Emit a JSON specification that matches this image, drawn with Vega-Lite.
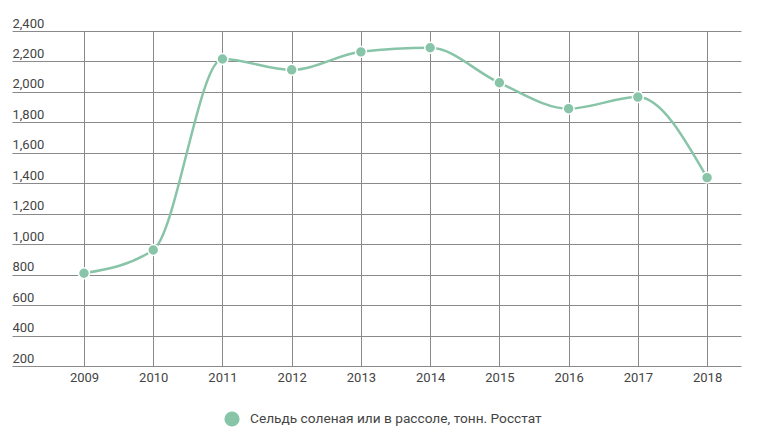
{
  "$schema": "https://vega.github.io/schema/vega-lite/v6.json",
  "autosize": "none",
  "width": 729,
  "height": 335,
  "padding": {"left": 12, "top": 31, "right": 18, "bottom": 80},
  "background": "white",
  "config": {
    "font": "Roboto",
    "view": {"stroke": null},
    "axis": {"labelFont": "Roboto", "labelFontSize": 13, "labelColor": "#444444", "gridColor": "#8a8a8a", "gridOpacity": 1, "gridWidth": 1}
  },
  "data": {
    "values": [
      {"year": 2009, "value": 809, "series": "Сельдь соленая или в рассоле, тонн. Росстат"},
      {"year": 2010, "value": 962, "series": "Сельдь соленая или в рассоле, тонн. Росстат"},
      {"year": 2011, "value": 2216, "series": "Сельдь соленая или в рассоле, тонн. Росстат"},
      {"year": 2012, "value": 2145, "series": "Сельдь соленая или в рассоле, тонн. Росстат"},
      {"year": 2013, "value": 2263, "series": "Сельдь соленая или в рассоле, тонн. Росстат"},
      {"year": 2014, "value": 2290, "series": "Сельдь соленая или в рассоле, тонн. Росстат"},
      {"year": 2015, "value": 2060, "series": "Сельдь соленая или в рассоле, тонн. Росстат"},
      {"year": 2016, "value": 1890, "series": "Сельдь соленая или в рассоле, тонн. Росстат"},
      {"year": 2017, "value": 1966, "series": "Сельдь соленая или в рассоле, тонн. Росстат"},
      {"year": 2018, "value": 1437, "series": "Сельдь соленая или в рассоле, тонн. Росстат"}
    ]
  },
  "encoding": {
    "x": {
      "field": "year", "type": "quantitative",
      "scale": {"domain": [2007.96, 2018.49], "nice": false, "zero": false},
      "axis": {"title": null, "values": [2009, 2010, 2011, 2012, 2013, 2014, 2015, 2016, 2017, 2018], "format": "d", "domain": false, "ticks": false, "labelPadding": 5, "grid": true, "labelFlush": false}
    },
    "y": {
      "field": "value", "type": "quantitative",
      "scale": {"domain": [200, 2400], "nice": false, "zero": false},
      "axis": {"title": null, "values": [200, 400, 600, 800, 1000, 1200, 1400, 1600, 1800, 2000, 2200, 2400], "format": ",d", "domain": false, "ticks": false, "labelAlign": "left", "labelBaseline": "alphabetic", "labelPadding": 0, "labelOffset": -4, "grid": true, "labelFlush": false}
    },
    "color": {
      "field": "series", "type": "nominal",
      "scale": {"range": ["#88c4a8"]},
      "legend": {
        "title": null, "orient": "none", "legendX": 212, "legendY": 380, "padding": 0,
        "symbolType": "circle", "symbolSize": 230, "symbolStrokeWidth": 0, "symbolFillColor": "#88c4a8",
        "labelFont": "Roboto", "labelFontSize": 13.7, "labelColor": "#444444", "labelOffset": 10, "labelLimit": 500
      }
    }
  },
  "layer": [
    {"mark": {"type": "line", "interpolate": "monotone", "strokeWidth": 2.5}},
    {"mark": {"type": "point", "filled": true, "size": 120, "stroke": "white", "strokeWidth": 1.5, "opacity": 1}}
  ]
}
